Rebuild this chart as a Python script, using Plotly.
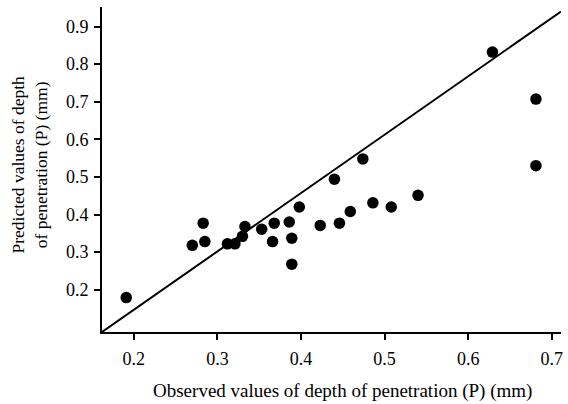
import plotly.graph_objects as go

observed = [0.191, 0.270, 0.283, 0.285, 0.312, 0.321, 0.330, 0.333, 0.353, 0.366,
            0.368, 0.386, 0.389, 0.389, 0.398, 0.423, 0.446, 0.459, 0.486, 0.508,
            0.540, 0.440, 0.474, 0.629, 0.681, 0.681]
predicted = [0.179, 0.318, 0.377, 0.328, 0.322, 0.322, 0.342, 0.368, 0.361, 0.328,
             0.377, 0.380, 0.337, 0.268, 0.420, 0.371, 0.377, 0.408, 0.431, 0.420,
             0.451, 0.494, 0.548, 0.832, 0.707, 0.530]
line_x = [0.162, 0.711]
line_y = [0.0875, 0.940]
xticks = [0.2, 0.3, 0.4, 0.5, 0.6, 0.7]
yticks = [0.2, 0.3, 0.4, 0.5, 0.6, 0.7, 0.8, 0.9]

font = "Liberation Serif, Times New Roman, serif"

fig = go.Figure()
fig.add_trace(go.Scatter(x=line_x, y=line_y, mode="lines",
                         line=dict(color="black", width=2), showlegend=False))
fig.add_trace(go.Scatter(x=observed, y=predicted, mode="markers",
                         marker=dict(color="black", size=11.5), showlegend=False))

fig.update_layout(
    width=568, height=404,
    margin=dict(l=102, r=5, t=7, b=72),
    paper_bgcolor="white", plot_bgcolor="white",
    font=dict(family=font, size=18, color="black"),
    xaxis=dict(range=[0.162, 0.711], tickvals=xticks, ticktext=[str(v) for v in xticks],
               showgrid=False, zeroline=False, showline=True, linecolor="black", linewidth=2,
               ticks="outside", ticklen=6, tickwidth=2, tickcolor="black",
               ticklabelstandoff=3),
    yaxis=dict(range=[0.0875, 0.952], tickvals=yticks, ticktext=[str(v) for v in yticks],
               showgrid=False, zeroline=False, showline=True, linecolor="black", linewidth=2,
               ticks="outside", ticklen=6, tickwidth=2, tickcolor="black",
               ticklabelstandoff=2),
    annotations=[
        dict(text="Predicted values of depth<br>of penetration (P) (mm)",
             textangle=-90, xref="paper", yref="paper", x=-0.157, y=0.515,
             xanchor="center", yanchor="middle", showarrow=False,
             font=dict(size=17.5, family=font)),
        dict(text="Observed values of depth of penetration (P) (mm)",
             xref="paper", yref="paper", x=0.525, y=-0.181,
             xanchor="center", yanchor="middle", showarrow=False,
             font=dict(size=19, family=font)),
    ],
)
fig.write_html("out.html")
